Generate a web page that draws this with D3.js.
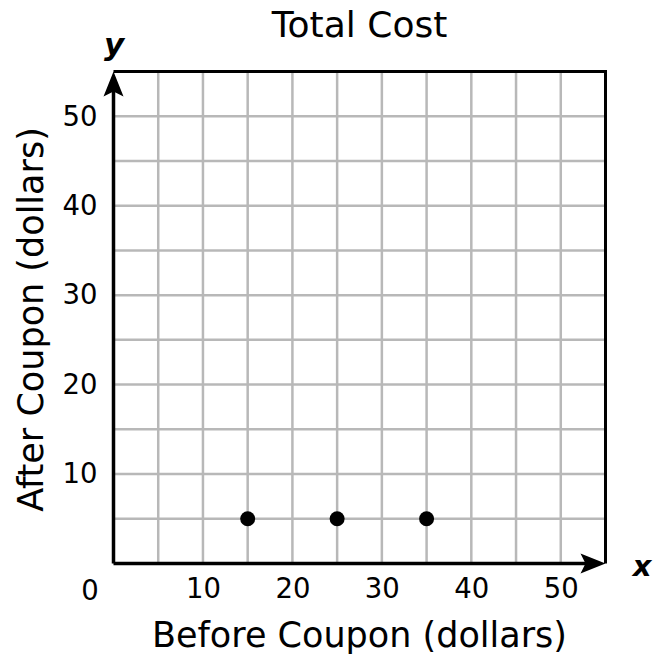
<!DOCTYPE html>
<html lang="en">
<head>
<meta charset="utf-8">
<script src="https://d3js.org/d3.v7.min.js"></script>
<style>
  body { margin: 0; background: #fff; }
  text { font-family: "DejaVu Sans", Verdana, sans-serif; fill: #000; }
</style>
</head>
<body>
<div id="chart"></div>
<script>
// chart values
const xTicks = [10, 20, 30, 40, 50];
const yTicks = [10, 20, 30, 40, 50];
const gridVals = [5, 10, 15, 20, 25, 30, 35, 40, 45, 50];
const pointX = [15, 25, 35];
const pointY = [5, 5, 5];
const domainMax = 55;

const W = 666, H = 668;
const plot = {left: 113.5, right: 605.5, top: 71.5, bottom: 563.5};

const svg = d3.select("#chart").append("svg")
  .attr("width", W).attr("height", H);

const x = d3.scaleLinear().domain([0, domainMax]).range([plot.left, plot.right]);
const y = d3.scaleLinear().domain([0, domainMax]).range([plot.bottom, plot.top]);

// grid
svg.append("g").selectAll("line.v").data(gridVals).join("line")
  .attr("x1", d => x(d)).attr("x2", d => x(d))
  .attr("y1", y(0)).attr("y2", y(domainMax))
  .attr("stroke", "#b8b8b8").attr("stroke-width", 2.5);
svg.append("g").selectAll("line.h").data(gridVals).join("line")
  .attr("y1", d => y(d)).attr("y2", d => y(d))
  .attr("x1", x(0)).attr("x2", x(domainMax))
  .attr("stroke", "#b8b8b8").attr("stroke-width", 2.5);

// border (top and right)
svg.append("path")
  .attr("d", `M${x(0)},${y(domainMax)}H${x(domainMax)}V${y(0)}`)
  .attr("fill", "none").attr("stroke", "#000").attr("stroke-width", 3);

// axes lines
svg.append("line")
  .attr("x1", x(0)).attr("x2", x(domainMax) - 10)
  .attr("y1", y(0)).attr("y2", y(0))
  .attr("stroke", "#000").attr("stroke-width", 3.5);
svg.append("line")
  .attr("x1", x(0)).attr("x2", x(0))
  .attr("y1", y(0)).attr("y2", y(domainMax) + 10)
  .attr("stroke", "#000").attr("stroke-width", 3.5);

// arrow heads
svg.append("path")
  .attr("d", `M${x(0)},${y(domainMax)}l-10,25l10,-5l10,5z`)
  .attr("fill", "#000");
svg.append("path")
  .attr("d", `M${x(domainMax)},${y(0)}l-25,-10l5,10l-5,10z`)
  .attr("fill", "#000");

// tick labels
const xAxis = svg.append("g")
  .attr("transform", `translate(0, ${y(0)})`)
  .call(d3.axisBottom(x).tickValues(xTicks).tickSize(0).tickPadding(15));
xAxis.select(".domain").remove();
xAxis.selectAll("text")
  .style("font-family", '"DejaVu Sans", Verdana, sans-serif')
  .style("font-size", "27.5px")
  .attr("dy", "0.71em");

const yAxis = svg.append("g")
  .attr("transform", `translate(${x(0)}, 0)`)
  .call(d3.axisLeft(y).tickValues(yTicks).tickSize(0).tickPadding(16));
yAxis.select(".domain").remove();
yAxis.selectAll("text")
  .style("font-family", '"DejaVu Sans", Verdana, sans-serif')
  .style("font-size", "27.5px");

svg.append("text")
  .attr("x", 90).attr("y", 600)
  .attr("text-anchor", "middle")
  .style("font-size", "27.5px")
  .text("0");

// points
svg.append("g").selectAll("circle").data(pointX).join("circle")
  .attr("cx", d => x(d))
  .attr("cy", (d, i) => y(pointY[i]))
  .attr("r", 7.5)
  .attr("fill", "#000");

// titles
svg.append("text")
  .attr("x", (plot.left + plot.right) / 2).attr("y", 37)
  .attr("text-anchor", "middle")
  .style("font-size", "36px")
  .text("Total Cost");

svg.append("text")
  .attr("x", (plot.left + plot.right) / 2).attr("y", 647)
  .attr("text-anchor", "middle")
  .style("font-size", "35px")
  .text("Before Coupon (dollars)");

svg.append("text")
  .attr("transform", `translate(43, ${(plot.top + plot.bottom) / 2 + 2}) rotate(-90)`)
  .attr("text-anchor", "middle")
  .style("font-size", "35px")
  .text("After Coupon (dollars)");

// axis letters
svg.append("text")
  .attr("x", 642).attr("y", 576)
  .attr("text-anchor", "middle")
  .style("font-size", "29px").style("font-weight", "bold").style("font-style", "italic")
  .text("x");
svg.append("text")
  .attr("x", 114).attr("y", 55)
  .attr("text-anchor", "middle")
  .style("font-size", "31px").style("font-weight", "bold").style("font-style", "italic")
  .text("y");
</script>
</body>
</html>
